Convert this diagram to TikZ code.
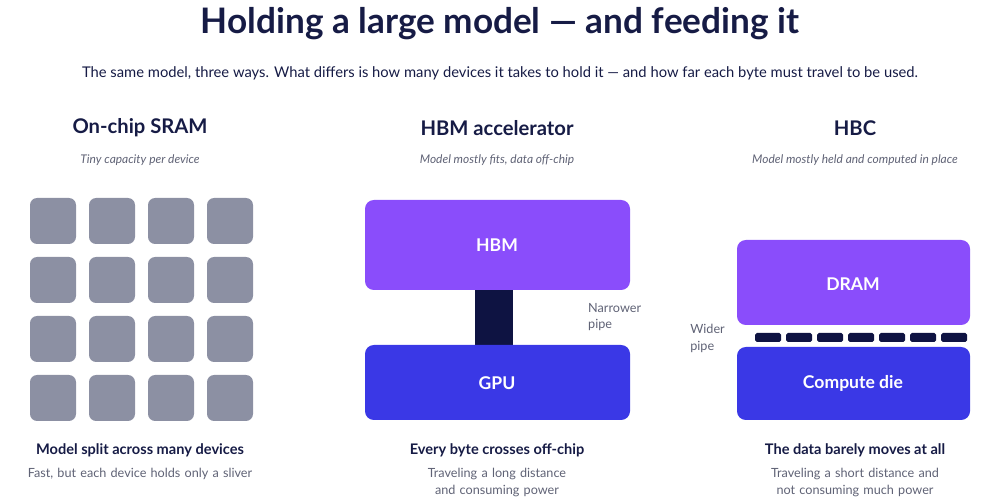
\documentclass[tikz,border=0pt]{standalone}
\usepackage{fontspec}
\setmainfont{Lato}
\usetikzlibrary{positioning}
\definecolor{navy}{HTML}{161B45}
\definecolor{greytext}{HTML}{5F6275}
\definecolor{cell}{HTML}{8C90A3}
\definecolor{hbmpurple}{HTML}{8A4DFB}
\definecolor{gpublue}{HTML}{3A38E6}
\definecolor{pipe}{HTML}{0E1342}
\tikzset{
  head/.style={font=\bfseries\fontsize{11.5}{13}\selectfont, text=navy},
  note/.style={font=\itshape\fontsize{6.8}{8}\selectfont, text=greytext},
  block/.style={rounded corners=5pt, draw=none},
  label/.style={font=\bfseries\fontsize{10}{12}\selectfont, text=white},
  caption/.style={font=\bfseries\fontsize{8.3}{10}\selectfont, text=navy},
  sub/.style={font=\fontsize{7.2}{9.6}\selectfont, text=greytext, align=center, text width=4.8cm}
}
\begin{document}
\begin{tikzpicture}[x=0.02cm,y=-0.02cm]
    \useasboundingbox (0,0) rectangle (1000,502);

    \node[font=\bfseries\fontsize{20}{24}\selectfont, text=navy] (title) at (500,24) {Holding a large model — and feeding it};
    \node[font=\fontsize{8.4}{10}\selectfont, text=navy] (lead) at (500,73) {The same model, three ways. What differs is how many devices it takes to hold it — and how far each byte must travel to be used.};

    % column heads
    \node[head] (sramhead) at (140,128) {On-chip SRAM};
    \node[note] (sramnote) at (140,160) {Tiny capacity per device};
    \node[head] (hbmhead) at (497,128) {HBM accelerator};
    \node[note] (hbmnote) at (497,160) {Model mostly fits, data off-chip};
    \node[head] (hbchead) at (855,128) {HBC};
    \node[note] (hbcnote) at (855,160) {Model mostly held and computed in place};

    % sram grid
    \foreach \i in {0,1,2,3}{
        \foreach \j in {0,1,2,3}{
            \fill[cell, rounded corners=4pt] (30+\i*59,198+\j*59) rectangle ++(46,46);
        }
    }

    % hbm accelerator
    \fill[block, hbmpurple] (365,200) rectangle (630,290);
    \node[label] (hbm) at (497,245) {HBM};
    \fill[pipe] (475,290) rectangle (513,345);
    \fill[block, gpublue] (365,345) rectangle (630,420);
    \node[label] (gpu) at (497,383) {GPU};
    \node[font=\fontsize{7.2}{9.6}\selectfont, text=greytext, align=left, anchor=west] (narrow) at (582,317) {Narrower\\pipe};

    % hbc
    \fill[block, hbmpurple] (737,240) rectangle (970,325);
    \node[label] (dram) at (853,284) {DRAM};
    \foreach \k in {0,...,6}{
        \fill[pipe, rounded corners=1pt] (755+\k*31,333) rectangle ++(26,9);
    }
    \fill[block, gpublue] (737,347) rectangle (970,420);
    \node[label] (die) at (853,383) {Compute die};
    \node[font=\fontsize{7.2}{9.6}\selectfont, text=greytext, align=left, anchor=east] (wide) at (731,338) {Wider\\pipe};

    % captions
    \node[caption] (cap1) at (140,450) {Model split across many devices};
    \node[sub, anchor=north] (sub1) at (140,462) {Fast, but each device holds only a sliver};
    \node[caption] (cap2) at (497,450) {Every byte crosses off-chip};
    \node[sub, anchor=north] (sub2) at (497,462) {Traveling a long distance and consuming power};
    \node[caption] (cap3) at (855,450) {The data barely moves at all};
    \node[sub, anchor=north] (sub3) at (855,462) {Traveling a short distance and not consuming much power};
\end{tikzpicture}
\end{document}
